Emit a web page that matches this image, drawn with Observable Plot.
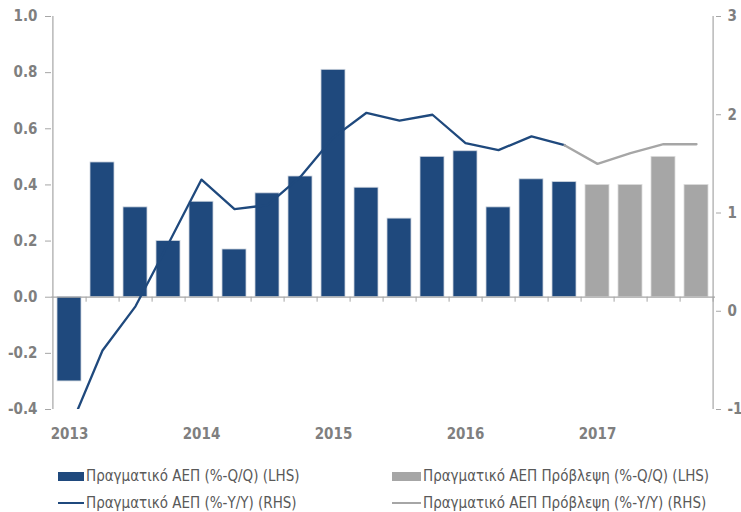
<!DOCTYPE html>
<html>
<head>
<meta charset="utf-8">
<script src="https://cdn.jsdelivr.net/npm/d3@7"></script>
<script src="https://cdn.jsdelivr.net/npm/@observablehq/plot@0.6"></script>
<style>
  html, body { margin: 0; padding: 0; background: #fff; }
  #wrap { position: relative; width: 741px; height: 512px; overflow: hidden; }
  .leg { position: absolute; display: flex; align-items: center; white-space: nowrap;
         font-family: "Liberation Sans Narrow", "DejaVu Sans Condensed", "DejaVu Sans", sans-serif;
         font-stretch: condensed; font-size: 15px; color: #595959; }
  .sw { display: inline-block; margin-right: 2px; }
</style>
</head>
<body>
<div id="wrap"></div>
<script>
// ---- data ----
const quarters = [
  "2013Q1","2013Q2","2013Q3","2013Q4",
  "2014Q1","2014Q2","2014Q3","2014Q4",
  "2015Q1","2015Q2","2015Q3","2015Q4",
  "2016Q1","2016Q2","2016Q3","2016Q4",
  "2017Q1","2017Q2","2017Q3","2017Q4"
];
const actualQuarters = quarters.slice(0, 16);
const forecastQuarters = quarters.slice(16);
const qoqActual = [-0.30, 0.48, 0.32, 0.20, 0.34, 0.17, 0.37, 0.43, 0.81, 0.39, 0.28, 0.50, 0.52, 0.32, 0.42, 0.41];
const qoqForecast = [0.40, 0.40, 0.50, 0.40];
const yoyActual = [-1.20, -0.40, 0.05, 0.69, 1.34, 1.04, 1.08, 1.37, 1.77, 2.02, 1.94, 2.00, 1.71, 1.64, 1.78, 1.69];
const yoyForecastQuarters = ["2016Q4","2017Q1","2017Q2","2017Q3","2017Q4"];
const yoyForecast = [1.69, 1.50, 1.61, 1.70, 1.70];
const leftTicks = [-0.4, -0.2, 0, 0.2, 0.4, 0.6, 0.8, 1.0];
const rightTicks = [-1, 0, 1, 2, 3];
const yearTicks = ["2013Q1","2014Q1","2015Q1","2016Q1","2017Q1"];
const seriesNames = [
  "Πραγματικό ΑΕΠ (%-Q/Q) (LHS)",
  "Πραγματικό ΑΕΠ Πρόβλεψη (%-Q/Q) (LHS)",
  "Πραγματικό ΑΕΠ (%-Y/Y) (RHS)",
  "Πραγματικό ΑΕΠ Πρόβλεψη (%-Y/Y) (RHS)"
];

// ---- layout / style ----
const W = 741, H = 450;
const mTop = 16, mRight = 26, mBottom = 41, mLeft = 51;
const blue = "#1f497d", grey = "#a6a6a6", axisGrey = "#a6a6a6", textGrey = "#7f7f7f";
const leftDomain = [-0.4, 1.0], rightDomain = [-1, 3];
const step = (W - mLeft - mRight) / quarters.length;
const plotH = H - mTop - mBottom;
// map right-axis value into left-axis units and back
const toLeft = v => leftDomain[0] + (v - rightDomain[0]) * (leftDomain[1] - leftDomain[0]) / (rightDomain[1] - rightDomain[0]);
const fromLeft = d => rightDomain[0] + (d - leftDomain[0]) * (rightDomain[1] - rightDomain[0]) / (leftDomain[1] - leftDomain[0]);

const barsActual = actualQuarters.map((q, i) => ({q, v: qoqActual[i]}));
const barsForecast = forecastQuarters.map((q, i) => ({q, v: qoqForecast[i]}));
const lineActual = actualQuarters.map((q, i) => ({q, v: yoyActual[i]}));
const lineForecast = yoyForecastQuarters.map((q, i) => ({q, v: yoyForecast[i]}));

const zeroToBottomPx = plotH * (0 - leftDomain[0]) / (leftDomain[1] - leftDomain[0]);
const fontFam = "'Liberation Sans Narrow', 'DejaVu Sans Condensed', 'DejaVu Sans', sans-serif";

const chart = Plot.plot({
  width: W, height: H,
  marginTop: mTop, marginRight: mRight, marginBottom: mBottom, marginLeft: mLeft,
  style: {fontFamily: fontFam, fontSize: "15px", fontWeight: "bold", color: textGrey, background: "#fff", fontStretch: "condensed"},
  x: {type: "band", domain: quarters, paddingInner: 0.26, paddingOuter: 0.13, label: null},
  y: {domain: leftDomain, label: null},
  marks: [
    Plot.barY(barsActual, {x: "q", y: "v", fill: blue, stroke: "#cdd4de", strokeWidth: 0.8}),
    Plot.barY(barsForecast, {x: "q", y: "v", fill: grey, stroke: "#dcdcdc", strokeWidth: 0.8}),
    // category boundary ticks below the zero line
    Plot.ruleX(quarters, {x: d => d, dx: step / 2, y1: 0, y2: leftDomain[0], insetBottom: zeroToBottomPx - 5, stroke: axisGrey, strokeWidth: 1}),
    Plot.ruleY([0], {stroke: axisGrey, strokeWidth: 1.2}),
    // axis lines
    Plot.ruleX([quarters[0]], {dx: -step / 2, y1: leftDomain[0], y2: leftDomain[1], stroke: axisGrey, strokeWidth: 1.2}),
    Plot.ruleX([quarters[quarters.length - 1]], {dx: step / 2, y1: leftDomain[0], y2: leftDomain[1], stroke: axisGrey, strokeWidth: 1.2}),
    Plot.line(lineActual, {x: "q", y: d => toLeft(d.v), stroke: blue, strokeWidth: 2.3, clip: true}),
    Plot.line(lineForecast, {x: "q", y: d => toLeft(d.v), stroke: grey, strokeWidth: 2.3, clip: true}),
    Plot.axisY(leftTicks, {anchor: "left", label: null, tickSize: 6, tickPadding: 8, stroke: axisGrey, fill: textGrey,
      tickFormat: d => d.toFixed(1)}),
    Plot.axisY(rightTicks.map(toLeft), {anchor: "right", label: null, tickSize: 5, tickPadding: 7, stroke: axisGrey, fill: textGrey,
      tickFormat: d => String(Math.round(fromLeft(d)))}),
    Plot.axisX(yearTicks, {anchor: "bottom", label: null, tickSize: 0, tickPadding: 19, fill: textGrey,
      tickFormat: q => q.slice(0, 4)})
  ]
});

const wrap = document.getElementById("wrap");
wrap.appendChild(chart);

// ---- legend (HTML, below the SVG) ----
const legendItems = [
  {name: seriesNames[0], kind: "box", color: blue, x: 58, y: 476, w: 26},
  {name: seriesNames[1], kind: "box", color: grey, x: 392, y: 476, w: 29},
  {name: seriesNames[2], kind: "line", color: blue, x: 58, y: 503, w: 26},
  {name: seriesNames[3], kind: "line", color: grey, x: 392, y: 503, w: 29}
];
legendItems.forEach(it => {
  const d = document.createElement("div");
  d.className = "leg";
  d.style.left = it.x + "px";
  d.style.top = (it.y - 10) + "px";
  d.style.height = "20px";
  const s = document.createElement("span");
  s.className = "sw";
  s.style.width = it.w + "px";
  s.style.height = it.kind === "box" ? "9px" : "2px";
  s.style.background = it.color;
  d.appendChild(s);
  const t = document.createElement("span");
  t.textContent = it.name;
  d.appendChild(t);
  wrap.appendChild(d);
});
</script>
</body>
</html>
